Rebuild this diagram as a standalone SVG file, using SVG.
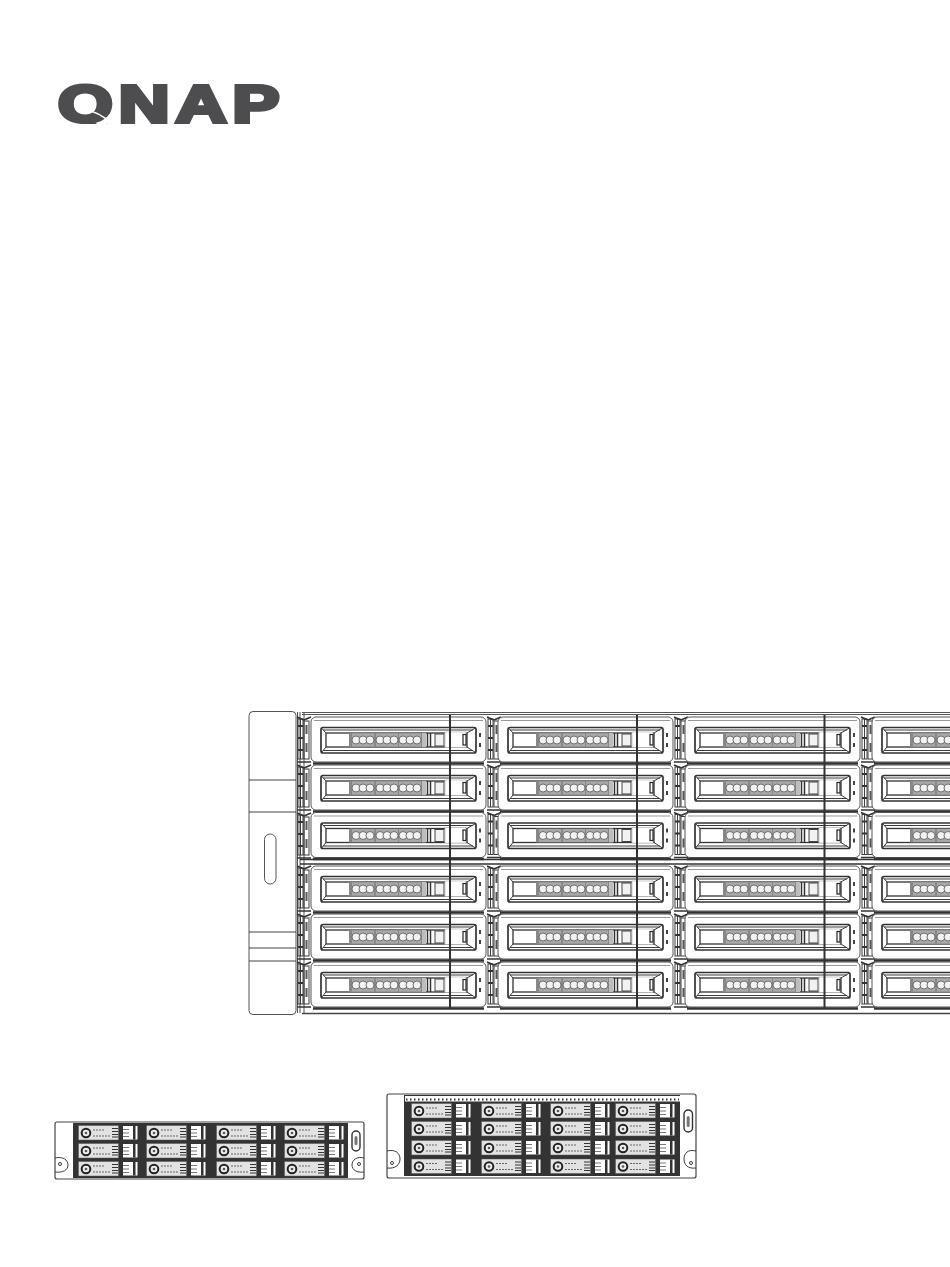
<svg xmlns="http://www.w3.org/2000/svg" width="950" height="1267" viewBox="0 0 950 1267">
<style>
.l{fill:none;stroke:#3c3c3c;stroke-width:1}
.t{fill:#fff;stroke:#555;stroke-width:1}
.d{fill:#444}
.g{fill:#bdbdbd}
.hx{fill:#f2f2f2;stroke:#555;stroke-width:.8}
.f{fill:#fff;stroke:#555;stroke-width:1}
</style>
<defs>
<g id="hexes">
<rect width="22" height="13" fill="#a8a8a8"/>
<circle class="hx" cx="4" cy="6.500" r="4"/><circle class="hx" cx="11" cy="6.500" r="4"/><circle class="hx" cx="18" cy="6.500" r="4"/>
</g>
<g id="tray">
<rect class="t" x="0" y="0" width="175" height="45" rx="5"/>
<path stroke="#999" d="M3 3.500H172"/>
<rect x="10" y="10.500" width="155" height="25.500" rx="2" fill="#fff" stroke="#333" stroke-width="1.700"/>
<rect x="15" y="16" width="141" height="14" fill="#fff" stroke="#333" stroke-width="1.300"/>
<path class="l" d="M10.500 11L15 16M10.500 35.500L15 30M164.500 11L156 16M164.500 35.500L156 30M12 13H162M12 33.500H162"/>
<rect x="38" y="16" width="73" height="14" fill="#888"/>
<use href="#hexes" x="41" y="16.500"/><use href="#hexes" x="65" y="16.500"/><use href="#hexes" x="88" y="16.500"/>
<rect class="g" x="111" y="16" width="4" height="14"/>
<path d="M116.500 16V30M119.500 16V30" stroke="#333" stroke-width="1.500"/>
<rect x="124" y="17" width="9" height="12" fill="#f2f2f2" stroke="#444"/>
<rect x="134" y="15" width="21" height="15.500" fill="#fff" stroke="#aaa" stroke-width=".6"/>
<rect x="152" y="17.500" width="3" height="10.500" fill="#fff" stroke="#222" stroke-width="1.200"/>
<rect class="d" x="168" y="16" width="2" height="4"/><rect class="d" x="168" y="26" width="2" height="4"/>
<path d="M2 46.500H173" stroke="#333" stroke-width="2.500"/>
</g>
<g id="rail">
<rect class="l" x="0" y="2" width="5" height="40"/>
<path class="l" d="M2.500 2V42"/>
<path d="M0 9H5M0 21H5M0 33H5" stroke="#333" stroke-width="2"/>
<rect class="l" x="6" y="4" width="5" height="38"/>
<rect x="7.500" y="8" width="2" height="9" fill="#555"/><rect x="7.500" y="26" width="2" height="9" fill="#555"/>
<path d="M-1 0L6 3M13 0L6 3M-1 45H13" stroke="#333" stroke-width="1.700" fill="none"/>
</g>
<g id="bigrow">
<use href="#tray"/><use href="#rail" x="177"/>
<use href="#tray" x="187"/><use href="#rail" x="364"/>
<use href="#tray" x="374"/><use href="#rail" x="551"/>
<use href="#tray" x="561"/>
</g>
<g id="sd">
<rect x="0" y="0" width="60" height="15.500" fill="#333"/>
<rect x="0.500" y="0.500" width="40" height="14.500" fill="#e2e2e2" stroke="#555" stroke-width=".5"/>
<circle cx="8" cy="8" r="4.300" fill="#eee" stroke="#222" stroke-width="2"/><circle cx="8" cy="8" r="1.300" fill="#555"/>
<path d="M15 5H27M15 11H33" stroke="#666" stroke-width="1" stroke-dasharray="2 1"/>
<path d="M34 3.500H40M34 6.500H40M34 9.500H40M34 12H40" stroke="#333" stroke-width="1"/>
<rect x="45" y="1" width="14.500" height="13.500" fill="#fff"/>
<path d="M45 4.500H51M45 8H51M45 11.500H51" stroke="#555" stroke-width=".8"/>
<rect x="55" y="1" width="2.500" height="13.500" fill="#333"/>
</g>
</defs>

<g id="logo">
<text x="58" y="122" font-family="'Liberation Sans',Arial,sans-serif" font-weight="700" font-size="52" fill="#4d4d4f" stroke="#4d4d4f" stroke-width="4" stroke-linejoin="miter" transform="translate(58 122) scale(1.35 1) translate(-58 -122)" textLength="164" lengthAdjust="spacing">QNAP</text>
<rect x="50" y="124" width="240" height="14" fill="#fff"/>
<path d="M83 109C95 111 104 116 112 124" fill="none" stroke="#fff" stroke-width="1.500"/>
</g>

<g id="enclosure-large">
<g id="front-panel">
<rect class="f" x="249" y="711.500" width="47" height="303" rx="4"/>
<path stroke="#444" fill="none" d="M249 780H296M249 812H296M249 932H296M249 948H296M249 961H296"/>
<rect x="264.500" y="834" width="11.500" height="50" rx="5.700" fill="#fff" stroke="#555"/>
</g>
<g id="chassis">
<path d="M302 712.500H950M302 714.500H950" stroke="#555" stroke-width="1"/>
<path d="M302 1013.500H950" stroke="#444" stroke-width="1.500"/>
<path d="M297.500 712V1013M300 712V1013M304 712V1013" stroke="#555" stroke-width="1"/>
<path d="M300 859.500H950M300 864H950" stroke="#333" stroke-width="1.400"/>
</g>
<g id="rails-left"><use href="#rail" x="298" y="717"/><use href="#rail" x="298" y="765"/><use href="#rail" x="298" y="813"/><use href="#rail" x="298" y="866"/><use href="#rail" x="298" y="914"/><use href="#rail" x="298" y="962"/></g>
<g id="drives-large">
<use href="#bigrow" x="311" y="717"/>
<use href="#bigrow" x="311" y="765"/>
<use href="#bigrow" x="311" y="812.500"/>
<use href="#bigrow" x="311" y="866"/>
<use href="#bigrow" x="311" y="914"/>
<use href="#bigrow" x="311" y="962"/>
</g>
<path id="dividers" d="M450 715V1008M637 715V1008M824.500 715V1008" stroke="#333" stroke-width="2" fill="none"/>
</g>

<g id="enclosure-12">
<rect x="55" y="1122" width="309" height="57" rx="2" fill="#fff" stroke="#444" stroke-width="1.200"/>
<rect x="73" y="1123" width="275" height="55" fill="#333"/>
<use href="#sd" x="78" y="1125"/><use href="#sd" x="146" y="1125"/><use href="#sd" x="216" y="1125"/><use href="#sd" x="284" y="1125"/>
<use href="#sd" x="78" y="1143"/><use href="#sd" x="146" y="1143"/><use href="#sd" x="216" y="1143"/><use href="#sd" x="284" y="1143"/>
<use href="#sd" x="78" y="1161"/><use href="#sd" x="146" y="1161"/><use href="#sd" x="216" y="1161"/><use href="#sd" x="284" y="1161"/>
<path class="l" d="M55 1158C63 1156 68 1160 68 1165C68 1170 63 1173 55 1172M364 1158C357 1156 352 1160 352 1165C352 1170 357 1173 364 1172"/>
<circle class="l" cx="60" cy="1164" r="1.500"/><circle class="l" cx="359" cy="1164" r="1.500"/>
<rect x="352" y="1131" width="8" height="20" rx="4" fill="#fff" stroke="#333" stroke-width="1.400"/>
<rect x="354.500" y="1136" width="3" height="9" rx="1.500" fill="#777"/>
</g>

<g id="enclosure-16">
<rect x="387" y="1094" width="309" height="84" rx="2" fill="#fff" stroke="#444" stroke-width="1.200"/>
<rect x="404" y="1095" width="276" height="81" fill="#333"/>
<rect x="405" y="1096" width="275" height="5.500" fill="#fff"/>
<path d="M406 1099.500H679" stroke="#333" stroke-width="2" stroke-dasharray="1.500 2.500"/>
<use href="#sd" x="411" y="1103"/><use href="#sd" x="481" y="1103"/><use href="#sd" x="550" y="1103"/><use href="#sd" x="615" y="1103"/>
<use href="#sd" x="411" y="1121"/><use href="#sd" x="481" y="1121"/><use href="#sd" x="550" y="1121"/><use href="#sd" x="615" y="1121"/>
<use href="#sd" x="411" y="1140"/><use href="#sd" x="481" y="1140"/><use href="#sd" x="550" y="1140"/><use href="#sd" x="615" y="1140"/>
<use href="#sd" x="411" y="1158.500"/><use href="#sd" x="481" y="1158.500"/><use href="#sd" x="550" y="1158.500"/><use href="#sd" x="615" y="1158.500"/>
<path class="l" d="M387 1151C395 1149 400 1153 400 1159C400 1165 395 1169 387 1168M696 1151C688 1149 684 1153 684 1159C684 1165 688 1169 696 1168"/>
<circle class="l" cx="392" cy="1163" r="1.500"/><circle class="l" cx="691" cy="1163" r="1.500"/>
<rect x="684" y="1110" width="8.500" height="22" rx="4.200" fill="#fff" stroke="#333" stroke-width="1.400"/>
<rect x="686.700" y="1116" width="3" height="11" rx="1.500" fill="#777"/>
</g>
</svg>
